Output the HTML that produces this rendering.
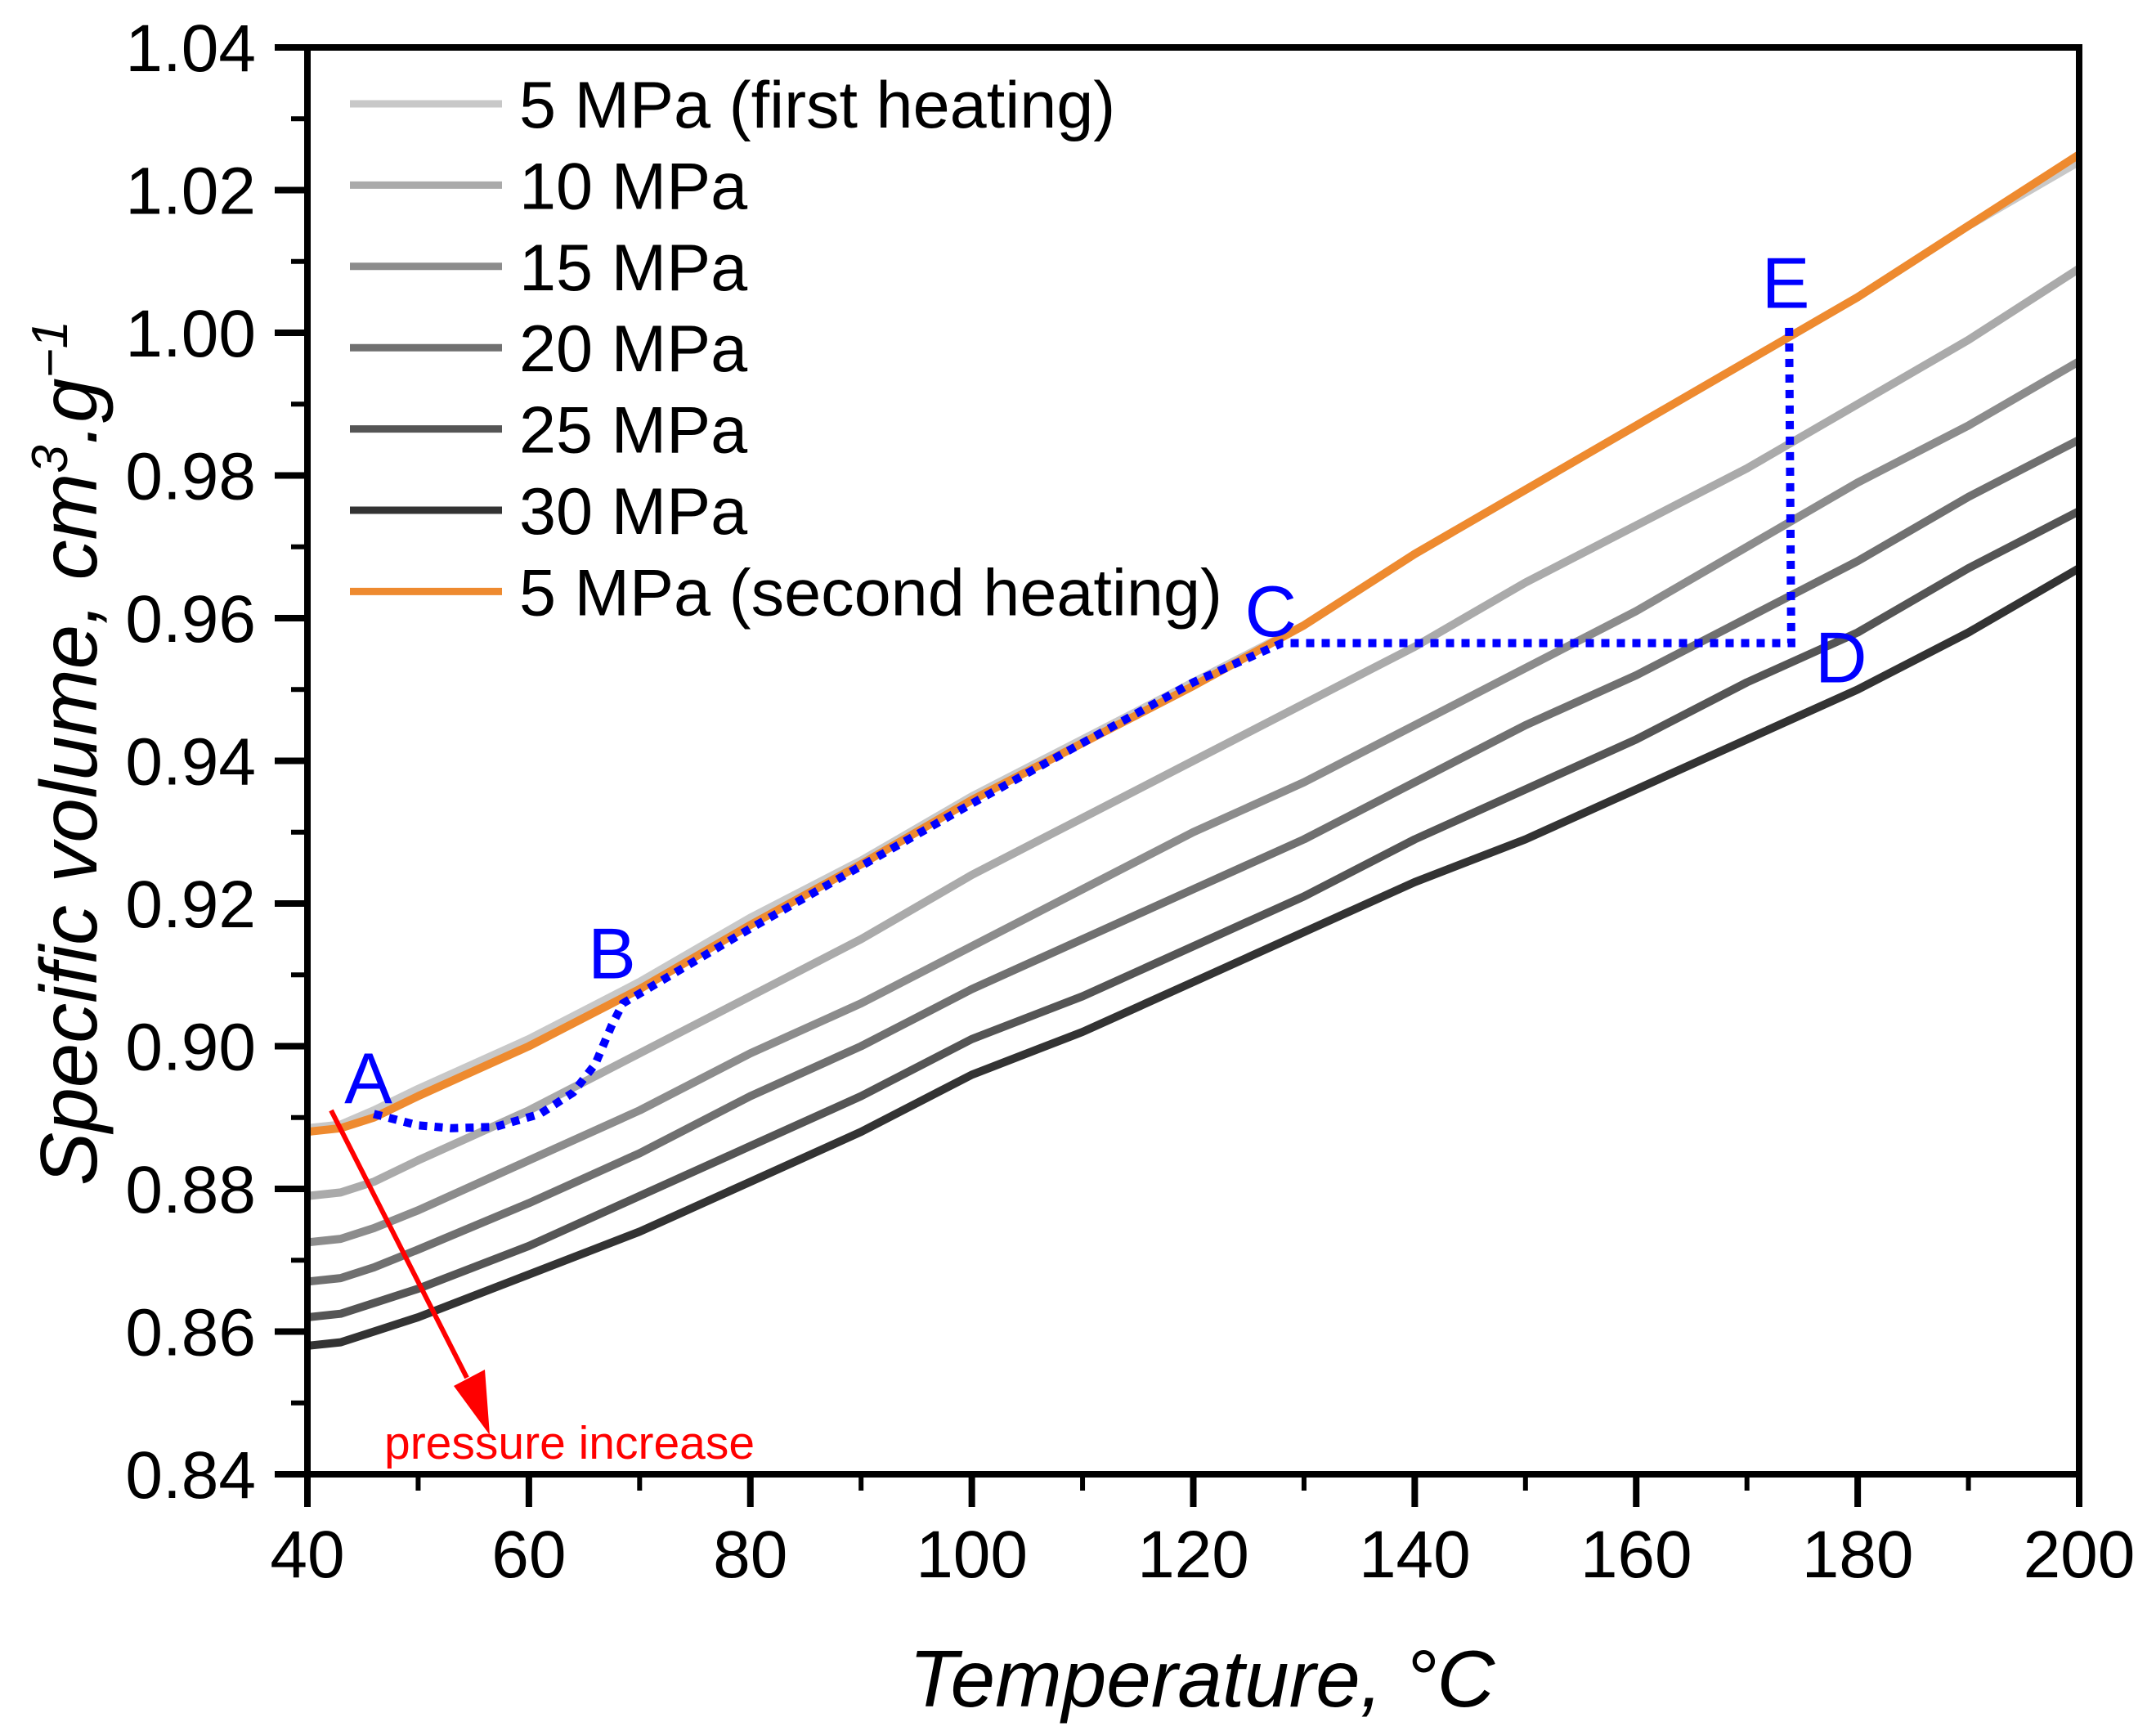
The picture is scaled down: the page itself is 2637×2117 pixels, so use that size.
<!DOCTYPE html>
<html><head><meta charset="utf-8"><style>
html,body{margin:0;padding:0;background:#fff;}
svg{display:block;font-family:"Liberation Sans",Arial,sans-serif;}
</style></head><body>
<svg id="chart" width="2637" height="2117" viewBox="0 0 2637 2117" xmlns="http://www.w3.org/2000/svg">
<rect width="2637" height="2117" fill="#fff"/>
<g id="series"></g>
<g id="annot"></g>
<g id="axes"></g>
<g id="legend"></g>
</svg>
<script>
const temps = [40,43,46,50,60,70,80,90,100,110,120,130,140,150,160,170,180,190,200];
const v5first = [.8885,.889,.891,.894,.901,.909,.918,.926,.935,.943,.951,.959,.969,.978,.987,.996,1.005,1.015,1.024];
const v10 = [.879,.8795,.881,.884,.891,.899,.907,.915,.924,.932,.940,.948,.956,.965,.973,.981,.990,.999,1.009];
const v15 = [.8725,.873,.8745,.877,.884,.891,.899,.906,.914,.922,.930,.937,.945,.953,.961,.970,.979,.987,.996];
const v20 = [.867,.8675,.869,.8715,.878,.885,.893,.900,.908,.915,.922,.929,.937,.945,.952,.960,.968,.977,.985];
const v25 = [.862,.8625,.864,.866,.872,.879,.886,.893,.901,.907,.914,.921,.929,.936,.943,.951,.958,.967,.975];
const v30 = [.858,.8585,.860,.862,.868,.874,.881,.888,.896,.902,.909,.916,.923,.929,.936,.943,.950,.958,.967];
const v5second = [.888,.8885,.890,.893,.900,.908,.917,.9255,.9345,.9425,.9505,.959,.969,.978,.987,.996,1.005,1.015,1.025];
const seriesNames = ["5 MPa (first heating)","10 MPa","15 MPa","20 MPa","25 MPa","30 MPa","5 MPa (second heating)"];
const xTicks = [40,60,80,100,120,140,160,180,200];
const yTicks = [0.84,0.86,0.88,0.90,0.92,0.94,0.96,0.98,1.00,1.02,1.04];
const pathT = [46,50,53,57,61,64,66,67.5,68.5,80,100,120,128,174,173.8];
const pathV = [.8905,.8889,.8885,.8887,.8905,.8935,.8975,.903,.906,.9165,.934,.951,.9565,.9565,1.001];
const labelNames = ["A","B","C","D","E"];
const labelT = [45.5,67.5,127,178.5,173.5];
const labelV = [.8955,.913,.961,.9545,1.007];

const NS="http://www.w3.org/2000/svg";
const X0=376,X1=2543,Y0=1803,Y1=58;
const xs=t=>X0+(t-40)/(200-40)*(X1-X0);
const ys=v=>Y0-(v-0.84)/(1.04-0.84)*(Y0-Y1);
function mk(tag,attrs,parent){const e=document.createElementNS(NS,tag);for(const k in attrs)e.setAttribute(k,attrs[k]);parent.appendChild(e);return e;}
const gS=document.getElementById('series'),gA=document.getElementById('axes'),gL=document.getElementById('legend'),gN=document.getElementById('annot');
const allSeries=[v5first,v10,v15,v20,v25,v30,v5second];
const colors=["#c8c8c8","#aaaaaa","#8c8c8c","#707070","#555555","#333333","#ee8a2f"];
const sNames=["series-5mpa-first","series-10mpa","series-15mpa","series-20mpa","series-25mpa","series-30mpa","series-5mpa-second"];
allSeries.forEach((vals,i)=>{
  const d=vals.map((v,j)=>(j?'L':'M')+xs(temps[j]).toFixed(1)+' '+ys(v).toFixed(1)).join(' ');
  const p=mk('path',{d:d,fill:'none',stroke:colors[i],'stroke-width':10,'stroke-linejoin':'round'},gS);
  
  
});
const bd=pathT.map((t,j)=>(j?'L':'M')+xs(t).toFixed(1)+' '+ys(pathV[j]).toFixed(1)).join(' ');
const bp=mk('path',{d:bd,fill:'none',stroke:'#0000ff','stroke-width':10,'stroke-dasharray':'10 9'},gN);


labelNames.forEach((n,i)=>{
  const t=mk('text',{x:xs(labelT[i]),y:ys(labelV[i]),'font-size':88,fill:'#0000ff','text-anchor':'middle','dominant-baseline':'central'},gN);
  t.textContent=n;
  
  
});
const ax1=405,ay1=1358,ax2=583,ay2=1715;
const ar=mk('line',{x1:ax1,y1:ay1,x2:ax2-12,y2:ay2-30,stroke:'#ff0000','stroke-width':6},gN);


const ah=mk('polygon',{points:`${ax2+16},${ay2+40} ${ax2-28},${ay2-20} ${ax2+10},${ay2-40}`,fill:'#ff0000'},gN);


const pt=mk('text',{x:470,y:1784,'font-size':57,fill:'#ff0000'},gN);
pt.textContent='pressure increase';


const fr=mk('rect',{x:X0,y:Y1,width:X1-X0,height:Y0-Y1,fill:'none',stroke:'#000','stroke-width':8},gA);


xTicks.forEach((t,i)=>{
  const x=xs(t);
  const l=mk('line',{x1:x,y1:Y0,x2:x,y2:Y0+40,stroke:'#000','stroke-width':8},gA);
  
  
  if(i<xTicks.length-1){const m=xs(t+10);
    const ml=mk('line',{x1:m,y1:Y0,x2:m,y2:Y0+20,stroke:'#000','stroke-width':6},gA);
    
    }
  const tx=mk('text',{x:x,y:1929,'font-size':82,'text-anchor':'middle',fill:'#000'},gA);
  tx.textContent=String(t);
  
  
});
yTicks.forEach((v,i)=>{
  const y=ys(v);
  const l=mk('line',{x1:X0-40,y1:y,x2:X0,y2:y,stroke:'#000','stroke-width':8},gA);
  
  
  if(i<yTicks.length-1){const m=ys(v+0.01);
    const ml=mk('line',{x1:X0-20,y1:m,x2:X0,y2:m,stroke:'#000','stroke-width':6},gA);
    
    }
  const tx=mk('text',{x:313,y:y+29,'font-size':82,'text-anchor':'end',fill:'#000'},gA);
  tx.textContent=v.toFixed(2);
  
  
});
const xt=mk('text',{x:1470,y:2087,'font-size':98,'font-style':'italic','text-anchor':'middle',fill:'#000'},gA);
xt.textContent='Temperature, °C';


const yt=mk('text',{x:0,y:0,'font-size':98,'font-style':'italic','text-anchor':'middle',fill:'#000',transform:'translate(118,921) rotate(-90)'},gA);
yt.innerHTML='Specific volume, cm<tspan dy="-36" font-size="62">3</tspan><tspan dy="36">.g</tspan><tspan dy="-36" font-size="62">−1</tspan>';


seriesNames.forEach((n,i)=>{
  const y=127+i*99.4;
  const l=mk('line',{x1:428,y1:y,x2:614,y2:y,stroke:colors[i],'stroke-width':9},gL);
  
  
  const t=mk('text',{x:635,y:y+29,'font-size':81,fill:'#000'},gL);
  t.textContent=n;
  
  
});
</script>
</body></html>
